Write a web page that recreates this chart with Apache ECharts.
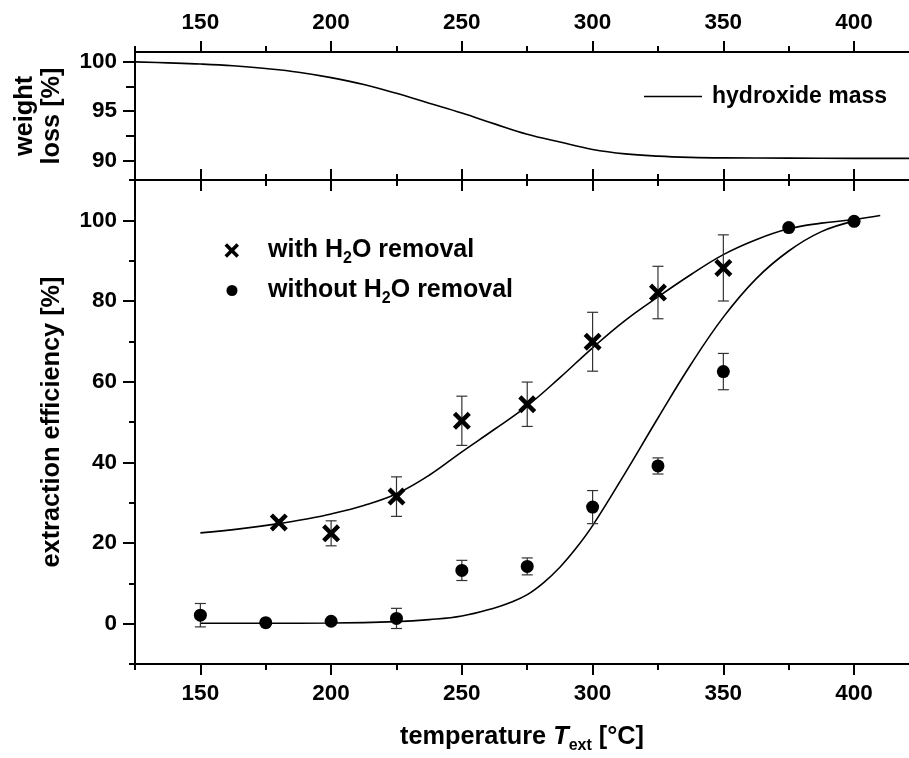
<!DOCTYPE html>
<html>
<head>
<meta charset="utf-8">
<script src="https://cdn.jsdelivr.net/npm/echarts@6/dist/echarts.min.js"></script>
<style>html,body{margin:0;padding:0;background:#fff}#c{width:909px;height:758px}</style>
</head>
<body>
<div id="c"></div>
<script>
// ---- tick values ----
const xMajor = [150, 200, 250, 300, 350, 400];
const xMinor = [125, 175, 225, 275, 325, 375];
const wMajor = [90, 95, 100];
const wMinor = [92.5, 97.5];
const eMajor = [0, 20, 40, 60, 80, 100];
const eMinor = [-10, 10, 30, 50, 70, 90, 110];

// ---- weight loss (hydroxide mass) curve ----
const weightX = [125, 137.5, 150, 162.5, 175, 187.5, 200, 212.5, 225, 237.5, 250, 262.5, 275, 287.5, 300, 312.5, 325, 337.5, 350, 375, 400, 421];
const weightY = [100.0, 99.9, 99.78, 99.6, 99.32, 98.95, 98.4, 97.7, 96.8, 95.8, 94.8, 93.7, 92.65, 91.85, 91.1, 90.65, 90.42, 90.3, 90.25, 90.22, 90.2, 90.2];

// ---- fitted curves ----
const withFitX = [150, 165, 180, 190, 200, 212.5, 225, 237.5, 250, 262.5, 275, 287.5, 300, 312.5, 325, 337.5, 350, 362.5, 375, 387.5, 400, 410];
const withFitY = [22.5, 23.5, 24.8, 25.9, 27.2, 29.3, 32.2, 36.8, 42.6, 48.2, 54.0, 61.0, 68.4, 75.2, 81.0, 86.5, 91.5, 95.2, 97.9, 99.3, 100.2, 101.2];
const withoutFitX = [150, 175, 200, 225, 237.5, 250, 262.5, 268.8, 275, 281.3, 287.5, 293.8, 300, 312.5, 325, 337.5, 350, 362.5, 375, 387.5, 400];
const withoutFitY = [0.1, 0.1, 0.15, 0.5, 1.0, 1.9, 3.9, 5.3, 7.2, 10.2, 14.0, 18.8, 24.3, 37.4, 51.0, 64.2, 76.0, 85.5, 92.4, 97.2, 99.8];

// ---- measured points ----
const withX = [180, 200, 225, 250, 275, 300, 325, 350];
const withY = [25.1, 22.4, 31.5, 50.3, 54.4, 69.9, 82.1, 88.2];
const withErr = [null, 3.1, 4.9, 6.1, 5.5, 7.3, 6.5, 8.2];
const withoutX = [150, 175, 200, 225, 250, 275, 300, 325, 350, 375, 400];
const withoutY = [2.1, 0.25, 0.6, 1.3, 13.2, 14.2, 28.9, 39.1, 62.5, 98.2, 99.75];
const withoutErr = [2.9, null, null, 2.5, 2.5, 2.1, 4.1, 2.0, 4.5, null, null];

const FONT = '"Liberation Sans", Arial, sans-serif';
const X_MIN = 125, X_MAX = 421;
const CROSS = 'path://M0,3.5 L3.5,0 L10,6.5 L16.5,0 L20,3.5 L13.5,10 L20,16.5 L16.5,20 L10,13.5 L3.5,20 L0,16.5 L6.5,10 Z';

const zip = (a, b) => a.map((v, i) => [v, b[i]]);
const errData = (xs, ys, es) => xs.map((x, i) => es[i] == null ? null : [x, ys[i] - es[i], ys[i] + es[i]]).filter(d => d);

const lineSt = { color: '#000', width: 2 };
const tickLabel = { color: '#000', fontFamily: FONT, fontWeight: 'bold', fontSize: 22.5 };

function xAx(grid, pos, vals, len, inside, label, extra) {
  return Object.assign({
    type: 'value', gridIndex: grid, position: pos, min: X_MIN, max: X_MAX,
    axisLine: { show: true, onZero: false, lineStyle: lineSt },
    axisTick: { show: true, inside: inside, length: len, customValues: vals, lineStyle: lineSt },
    axisLabel: label ? Object.assign({ customValues: vals }, tickLabel, label) : { show: false },
    splitLine: { show: false }
  }, extra || {});
}
function yAx(grid, min, max, vals, len, label, extra) {
  return Object.assign({
    type: 'value', gridIndex: grid, position: 'left', min: min, max: max,
    axisLine: { show: true, onZero: false, lineStyle: lineSt },
    axisTick: { show: true, inside: false, length: len, customValues: vals, lineStyle: lineSt },
    axisLabel: label ? Object.assign({ customValues: vals }, tickLabel, label) : { show: false },
    splitLine: { show: false }
  }, extra || {});
}

function errRender(params, api) {
  const x = api.value(0), lo = api.value(1), hi = api.value(2);
  const a = api.coord([x, lo]), b = api.coord([x, hi]);
  const w = 5.5;
  const st = { stroke: '#333', lineWidth: 1.2 };
  return {
    type: 'group', children: [
      { type: 'line', shape: { x1: a[0], y1: a[1], x2: b[0], y2: b[1] }, style: st },
      { type: 'line', shape: { x1: a[0] - w, y1: a[1], x2: a[0] + w, y2: a[1] }, style: st },
      { type: 'line', shape: { x1: b[0] - w, y1: b[1], x2: b[0] + w, y2: b[1] }, style: st }
    ]
  };
}

const nameStyle = { color: '#000', fontFamily: FONT, fontWeight: 'bold', fontSize: 25.3, lineHeight: 27 };
const legendText = (size) => ({
  color: '#000', fontFamily: FONT, fontWeight: 'bold', fontSize: size,
  rich: { sub: { fontFamily: FONT, fontWeight: 'bold', fontSize: 16, color: '#000', padding: [17, 0, 0, 0] } }
});
const subName = n => n.replace('H2O', 'H{sub|2}O');

const chart = echarts.init(document.getElementById('c'), null, { renderer: 'canvas' });
chart.setOption({
  animation: false,
  backgroundColor: '#fff',
  grid: [
    { left: 135, right: 0, top: 52, height: 128, outerBoundsMode: 'none', containLabel: false },
    { left: 135, right: 0, top: 180, height: 484, outerBoundsMode: 'none', containLabel: false }
  ],
  xAxis: [
    xAx(0, 'top', xMajor, 11, false, { margin: 18 }),
    xAx(0, 'top', xMinor, 6, false, null),
    xAx(0, 'bottom', xMajor, 11, true, null),
    xAx(0, 'bottom', xMinor, 6, true, null),
    xAx(1, 'bottom', xMajor, 11, false, { margin: 18 }, {
      name: 'temperature {i|T}{sub|ext} [°C]', nameLocation: 'middle', nameGap: 60,
      nameTextStyle: Object.assign({}, nameStyle, {
        rich: {
          i: { fontFamily: FONT, fontWeight: 'bold', fontStyle: 'italic', fontSize: 25.3, color: '#000' },
          sub: { fontFamily: FONT, fontWeight: 'bold', fontSize: 16, color: '#000', padding: [17, 0, 0, 0] }
        }
      })
    }),
    xAx(1, 'bottom', xMinor, 6, false, null),
    xAx(1, 'top', xMajor, 11, true, null),
    xAx(1, 'top', xMinor, 6, true, null)
  ],
  yAxis: [
    yAx(0, 88, 101, wMajor, 12, { margin: 18 }, {
      name: 'weight\nloss [%]', nameLocation: 'middle', nameGap: 69, nameTextStyle: nameStyle
    }),
    yAx(0, 88, 101, wMinor, 9, null),
    yAx(1, -10, 110, eMajor, 12, { margin: 18 }, {
      name: 'extraction efficiency [%]', nameLocation: 'middle', nameGap: 69, nameTextStyle: nameStyle
    }),
    yAx(1, -10, 110, eMinor, 6, null)
  ],
  legend: [
    {
      data: [{ name: 'hydroxide mass', icon: 'rect' }], left: 644, top: 85, padding: 0, selectedMode: false,
      itemWidth: 58, itemHeight: 1.6,
      textStyle: Object.assign({}, legendText(23), { padding: [0, 0, 0, 5] })
    },
    {
      data: [{ name: 'with H2O removal', icon: CROSS }], left: 224.5, top: 238, padding: 0, selectedMode: false,
      itemWidth: 14.5, itemHeight: 14.5, formatter: subName,
      textStyle: Object.assign({}, legendText(25), { padding: [0, 0, 0, 24] })
    },
    {
      data: [{ name: 'without H2O removal', icon: 'circle' }], left: 226.5, top: 278, padding: 0, selectedMode: false,
      itemWidth: 11, itemHeight: 11, formatter: subName,
      textStyle: Object.assign({}, legendText(25), { padding: [0, 0, 0, 25.5] })
    }
  ],
  series: [
    {
      name: 'hydroxide mass', type: 'line', xAxisIndex: 0, yAxisIndex: 0,
      data: zip(weightX, weightY), smooth: 0.4, symbol: 'none',
      lineStyle: { color: '#000', width: 1.6 }, itemStyle: { color: '#000' }
    },
    {
      name: 'withFit', type: 'line', xAxisIndex: 4, yAxisIndex: 2,
      data: zip(withFitX, withFitY), smooth: 0.4, symbol: 'none',
      lineStyle: { color: '#000', width: 1.6 }, z: 2
    },
    {
      name: 'withoutFit', type: 'line', xAxisIndex: 4, yAxisIndex: 2,
      data: zip(withoutFitX, withoutFitY), smooth: 0.4, symbol: 'none',
      lineStyle: { color: '#000', width: 1.6 }, z: 2
    },
    {
      name: 'withErr', type: 'custom', xAxisIndex: 4, yAxisIndex: 2,
      data: errData(withX, withY, withErr), renderItem: errRender, z: 3
    },
    {
      name: 'withoutErr', type: 'custom', xAxisIndex: 4, yAxisIndex: 2,
      data: errData(withoutX, withoutY, withoutErr), renderItem: errRender, z: 3
    },
    {
      name: 'with H2O removal', type: 'scatter', xAxisIndex: 4, yAxisIndex: 2,
      data: zip(withX, withY), symbol: CROSS, symbolSize: 18,
      itemStyle: { color: '#000', opacity: 1 }, z: 5
    },
    {
      name: 'without H2O removal', type: 'scatter', xAxisIndex: 4, yAxisIndex: 2,
      data: zip(withoutX, withoutY), symbol: 'circle', symbolSize: 13,
      itemStyle: { color: '#000', opacity: 1 }, z: 5
    }
  ]
});
</script>
</body>
</html>
